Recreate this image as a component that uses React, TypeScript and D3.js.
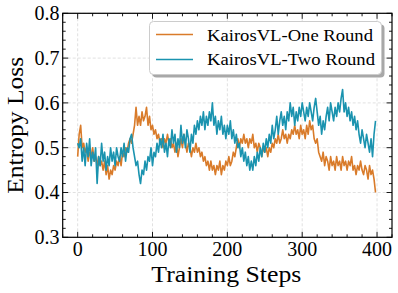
import React from "react";
import * as d3 from "d3";

const STEP = 2;
const oneRound = [
  0.48, 0.53, 0.55, 0.50, 0.51, 0.49, 0.50, 0.47, 0.49, 0.48,
  0.50, 0.47, 0.48, 0.46, 0.48, 0.46, 0.47, 0.45, 0.47, 0.44,
  0.46, 0.43, 0.45, 0.44, 0.46, 0.45, 0.47, 0.46, 0.48, 0.46,
  0.49, 0.48, 0.50, 0.49, 0.51, 0.52, 0.51, 0.53, 0.55, 0.59,
  0.55, 0.57, 0.55, 0.58, 0.56, 0.57, 0.59, 0.55, 0.57, 0.54,
  0.55, 0.53, 0.54, 0.52, 0.53, 0.51, 0.52, 0.50, 0.52, 0.51,
  0.53, 0.51, 0.52, 0.50, 0.51, 0.49, 0.51, 0.48, 0.50, 0.52,
  0.50, 0.53, 0.51, 0.49, 0.51, 0.50, 0.48, 0.50, 0.49, 0.51,
  0.49, 0.50, 0.48, 0.49, 0.47, 0.48, 0.46, 0.47, 0.45, 0.47,
  0.45, 0.46, 0.44, 0.46, 0.45, 0.47, 0.44, 0.46, 0.45, 0.47,
  0.46, 0.48, 0.46, 0.47, 0.49, 0.48, 0.50, 0.52, 0.50, 0.52,
  0.51, 0.53, 0.51, 0.52, 0.50, 0.52, 0.51, 0.53, 0.50, 0.51,
  0.49, 0.51, 0.50, 0.48, 0.50, 0.49, 0.50, 0.48, 0.50, 0.49,
  0.51, 0.50, 0.52, 0.51, 0.53, 0.51, 0.52, 0.54, 0.52, 0.53,
  0.51, 0.53, 0.52, 0.54, 0.53, 0.55, 0.53, 0.54, 0.52, 0.55,
  0.53, 0.54, 0.52, 0.55, 0.53, 0.56, 0.54, 0.55, 0.52, 0.51,
  0.52, 0.49, 0.48, 0.47, 0.49, 0.46, 0.48, 0.47, 0.45, 0.48,
  0.46, 0.47, 0.45, 0.48, 0.46, 0.47, 0.45, 0.48, 0.46, 0.47,
  0.45, 0.47, 0.46, 0.48, 0.45, 0.46, 0.44, 0.46, 0.45, 0.47,
  0.45, 0.44, 0.46, 0.45, 0.43, 0.46, 0.44, 0.45, 0.43, 0.40,
];
const twoRound = [
  0.51, 0.50, 0.52, 0.47, 0.50, 0.46, 0.51, 0.48, 0.52, 0.46,
  0.49, 0.47, 0.50, 0.42, 0.48, 0.46, 0.51, 0.47, 0.49, 0.45,
  0.48, 0.46, 0.50, 0.47, 0.49, 0.46, 0.50, 0.48, 0.47, 0.50,
  0.48, 0.51, 0.47, 0.50, 0.49, 0.52, 0.53, 0.50, 0.48, 0.46,
  0.47, 0.44, 0.42, 0.45, 0.44, 0.47, 0.45, 0.48, 0.47, 0.50,
  0.46, 0.49, 0.48, 0.51, 0.49, 0.52, 0.50, 0.53, 0.49, 0.51,
  0.48, 0.52, 0.50, 0.54, 0.51, 0.53, 0.49, 0.52, 0.50, 0.55,
  0.51, 0.53, 0.50, 0.54, 0.52, 0.49, 0.53, 0.51, 0.55, 0.53,
  0.56, 0.54, 0.57, 0.55, 0.58, 0.54, 0.57, 0.55, 0.58, 0.56,
  0.60, 0.55, 0.57, 0.53, 0.56, 0.54, 0.57, 0.53, 0.55, 0.52,
  0.55, 0.53, 0.56, 0.52, 0.54, 0.51, 0.53, 0.50, 0.51, 0.48,
  0.50, 0.47, 0.49, 0.46, 0.48, 0.45, 0.47, 0.45, 0.48, 0.46,
  0.49, 0.47, 0.50, 0.48, 0.51, 0.49, 0.52, 0.50, 0.53, 0.51,
  0.55, 0.52, 0.54, 0.57, 0.53, 0.56, 0.58, 0.55, 0.57, 0.54,
  0.58, 0.56, 0.60, 0.57, 0.59, 0.55, 0.58, 0.56, 0.59, 0.57,
  0.60, 0.58, 0.56, 0.59, 0.57, 0.60, 0.58, 0.56, 0.59, 0.61,
  0.58, 0.55, 0.57, 0.53, 0.56, 0.54, 0.57, 0.59, 0.56, 0.60,
  0.58, 0.56, 0.59, 0.57, 0.60, 0.58, 0.61, 0.63, 0.58, 0.60,
  0.57, 0.59, 0.56, 0.58, 0.55, 0.57, 0.54, 0.56, 0.53, 0.51,
  0.54, 0.52, 0.50, 0.53, 0.51, 0.49, 0.52, 0.48, 0.53, 0.56,
];
const xTicks = [0, 100, 200, 300, 400];
const yTicks = [0.3, 0.4, 0.5, 0.6, 0.7, 0.8];
const seriesNames = ["KairosVL-One Round", "KairosVL-Two Round"];
const seriesColors = ["#d97b2a", "#1a93af"];

const W = 398;
const H = 293;
const L = 62.7, R = 392, T = 13.3, B = 237.3;
const FONT = '"Liberation Serif", "Times New Roman", serif';
const ts: React.CSSProperties = { fontFamily: FONT };

export default function App() {
  const x = d3.scaleLinear().domain([-20, 420]).range([L, R]);
  const y = d3.scaleLinear().domain([0.3, 0.8]).range([B, T]);
  const line = d3
    .line<number>()
    .x((_, i) => x(i * STEP))
    .y((v) => y(v));
  const xMinor = d3.range(-20, 421, 20);
  const yMinor = d3.range(0.3, 0.8001, 0.02);
  const series = [oneRound, twoRound];
  const maj = 5.5, mnr = 3;

  return (
    <svg
      width={W}
      height={H}
      style={{ position: "absolute", left: 0, top: 0, background: "#fff" }}
    >
      <rect x={0} y={0} width={W} height={H} fill="#fff" />
      <g stroke="#d9d9d9" strokeWidth={0.8} strokeDasharray="3,2">
        {xTicks.map((t) => (
          <line key={"gx" + t} x1={x(t)} x2={x(t)} y1={T} y2={B} />
        ))}
        {yTicks.map((t) => (
          <line key={"gy" + t} x1={L} x2={R} y1={y(t)} y2={y(t)} />
        ))}
      </g>
      {series.map((s, i) => (
        <path
          key={i}
          d={line(s) || ""}
          fill="none"
          stroke={seriesColors[i]}
          strokeWidth={1.6}
          strokeLinejoin="round"
        />
      ))}
      <g stroke="#000" strokeWidth={0.9}>
        {xMinor.map((t) => {
          const len = xTicks.includes(t) ? maj : mnr;
          return (
            <g key={"tx" + t}>
              <line x1={x(t)} x2={x(t)} y1={B} y2={B - len} />
              <line x1={x(t)} x2={x(t)} y1={T} y2={T + len} />
            </g>
          );
        })}
        {yMinor.map((t, i) => {
          const len = i % 5 === 0 ? maj : mnr;
          return (
            <g key={"ty" + i}>
              <line x1={L} x2={L + len} y1={y(t)} y2={y(t)} />
              <line x1={R} x2={R - len} y1={y(t)} y2={y(t)} />
            </g>
          );
        })}
      </g>
      <rect x={L} y={T} width={R - L} height={B - T} fill="none" stroke="#000" strokeWidth={1.2} />
      {xTicks.map((t) => (
        <text key={"lx" + t} x={x(t)} y={256} style={ts} fontSize={20} textAnchor="middle" fill="#000">
          {t}
        </text>
      ))}
      {yTicks.map((t) => (
        <text key={"ly" + t} x={59.5} y={y(t)} dy="0.34em" style={ts} fontSize={20} textAnchor="end" fill="#000">
          {t.toFixed(1)}
        </text>
      ))}
      <text x={(L + R) / 2 - 1} y={282} style={ts} fontSize={24} textAnchor="middle" textLength={150} lengthAdjust="spacingAndGlyphs">
        Training Steps
      </text>
      <text
        transform={`translate(23,${(T + B) / 2}) rotate(-90)`}
        style={ts}
        fontSize={24}
        textAnchor="middle"
        textLength={137}
        lengthAdjust="spacingAndGlyphs"
      >
        Entropy Loss
      </text>
      <rect x={152.5} y={24.5} width={232} height={53} rx={4} fill="#a8a8a8" />
      <rect x={149.5} y={21.5} width={232} height={53} rx={4} fill="#fff" stroke="#cccccc" strokeWidth={1} />
      {seriesNames.map((n, i) => (
        <g key={n}>
          <line x1={156} x2={193} y1={34.5 + i * 25} y2={34.5 + i * 25} stroke={seriesColors[i]} strokeWidth={1.6} />
          <text x={207} y={40.7 + i * 24.5} style={ts} fontSize={17} textLength={i === 0 ? 166 : 168} lengthAdjust="spacingAndGlyphs">
            {n}
          </text>
        </g>
      ))}
    </svg>
  );
}
